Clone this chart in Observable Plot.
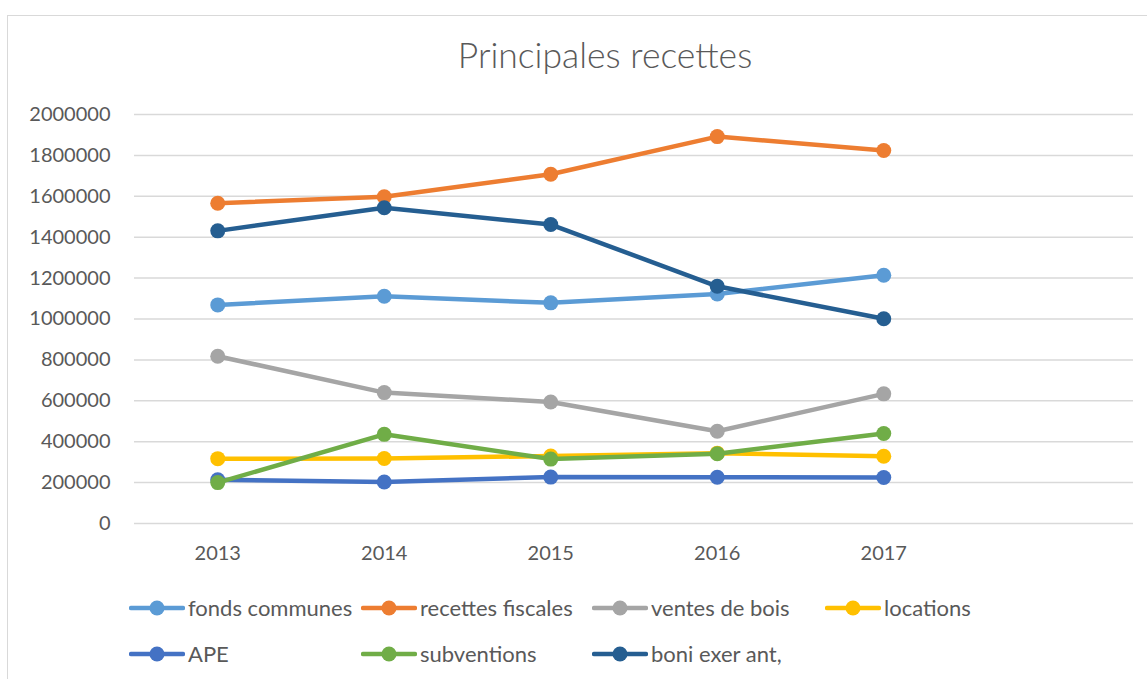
<!DOCTYPE html>
<html>
<head>
<meta charset="utf-8">
<script src="https://cdn.jsdelivr.net/npm/d3@7"></script>
<script src="https://cdn.jsdelivr.net/npm/@observablehq/plot@0.6"></script>
<style>
  html, body { margin: 0; padding: 0; background: #fff; }
  #wrap { position: relative; width: 1147px; height: 679px; overflow: hidden; font-family: Lato, "Open Sans", sans-serif; }
  #frame { position: absolute; left: 7px; top: 15px; width: 1160px; height: 700px; border-left: 1.5px solid #d9d9d9; border-top: 1.5px solid #d9d9d9; box-sizing: border-box; }
  #title { position: absolute; left: 0; width: 1210px; top: 35px; line-height: 40px; text-align: center; font-size: 35.5px; font-weight: 300; color: #595959; }
  #chart { position: absolute; left: 0; top: 0; }
  #legend { position: absolute; left: 0; top: 0; }
  .item { position: absolute; display: flex; align-items: center; font-size: 22px; color: #595959; white-space: nowrap; }
  .item svg { margin-right: 3px; }
</style>
</head>
<body>
<div id="wrap">
  <div id="frame"></div>
  <div id="chart"></div>
  <div id="title">Principales recettes</div>
  <div id="legend"></div>
</div>
<script>
const years = [2013, 2014, 2015, 2016, 2017];
const seriesNames = ["fonds communes", "recettes fiscales", "ventes de bois", "locations", "APE", "subventions", "boni exer ant,"];
const seriesColors = ["#5B9BD5", "#ED7D31", "#A5A5A5", "#FFC000", "#4472C4", "#70AD47", "#255E91"];
const fondsCommunes = [1069000, 1111000, 1079000, 1122000, 1214000];
const recettesFiscales = [1566000, 1598000, 1708000, 1892000, 1824000];
const ventesDeBois = [818000, 640000, 594000, 451000, 634000];
const locations = [317000, 318000, 330000, 344000, 329000];
const ape = [214000, 203000, 227000, 226000, 225000];
const subventions = [200000, 436000, 315000, 341000, 440000];
const boniExerAnt = [1431000, 1544000, 1462000, 1160000, 1001000];
const yTicks = [0, 200000, 400000, 600000, 800000, 1000000, 1200000, 1400000, 1600000, 1800000, 2000000];

const allValues = [fondsCommunes, recettesFiscales, ventesDeBois, locations, ape, subventions, boniExerAnt];
const rows = seriesNames.map((name, i) => years.map((yr, j) => ({series: name, year: yr, value: allValues[i][j]})));

const marks = [
  Plot.gridY(yTicks, {stroke: "#d9d9d9", strokeOpacity: 1, strokeWidth: 1.5}),
  Plot.axisY(yTicks, {tickSize: 0, tickPadding: 24, tickFormat: d => String(d), fontSize: 20, fill: "#595959", label: null}),
  Plot.axisX(years, {tickSize: 0, tickPadding: 22, tickFormat: d => String(d), fontSize: 20, fill: "#595959", label: null})
];
rows.forEach(data => {
  marks.push(Plot.line(data, {x: "year", y: "value", stroke: "series", strokeWidth: 4.5, strokeLinejoin: "round", strokeLinecap: "round"}));
  marks.push(Plot.dot(data, {x: "year", y: "value", fill: "series", r: 7.5}));
});

const plot = Plot.plot({
  width: 1147,
  height: 580,
  marginTop: 114,
  marginBottom: 57,
  marginLeft: 134,
  marginRight: 14,
  style: {fontFamily: "Lato, 'Open Sans', sans-serif", background: "transparent", overflow: "visible"},
  x: {type: "linear", domain: [2012.5, 2018.5]},
  y: {domain: [0, 2000000]},
  color: {domain: seriesNames, range: seriesColors},
  marks
});
document.getElementById("chart").appendChild(plot);

const legend = document.getElementById("legend");
const colX = [129, 361, 592, 825];
const rowY = [607, 653];
seriesNames.forEach((name, i) => {
  const div = document.createElement("div");
  div.className = "item";
  div.style.left = colX[i % 4] + "px";
  div.style.top = (rowY[Math.floor(i / 4)] - 13) + "px";
  const c = seriesColors[i];
  div.innerHTML = `<svg width="56" height="26"><line x1="2" x2="54" y1="13" y2="13" stroke="${c}" stroke-width="4.5" stroke-linecap="round"/><circle cx="28" cy="13" r="7.5" fill="${c}"/></svg>`;
  const span = document.createElement("span");
  span.textContent = name;
  div.appendChild(span);
  legend.appendChild(div);
});
</script>
</body>
</html>
